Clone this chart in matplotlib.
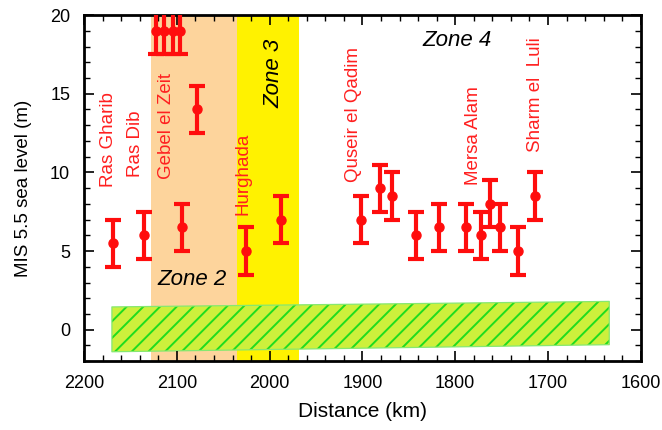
import matplotlib.pyplot as plt
from matplotlib.ticker import MultipleLocator

plt.rcParams['font.family'] = ['Liberation Sans', 'DejaVu Sans']
plt.rcParams['hatch.linewidth'] = 1.4

# site data: distance (km), MIS 5.5 sea level (m), error (m)
dist = [2169, 2135, 2123, 2114, 2104, 2097, 2094, 2078, 2025, 1988,
        1902, 1881, 1868, 1842, 1817, 1788, 1772, 1763, 1752, 1732, 1714]
level = [5.5, 6.0, 19.0, 19.0, 19.0, 19.0, 6.5, 14.0, 5.0, 7.0,
         7.0, 9.0, 8.5, 6.0, 6.5, 6.5, 6.0, 8.0, 6.5, 5.0, 8.5]
err = [1.5] * len(dist)

# site names and label positions (km, bottom of text in m)
site_names = ["Ras Gharib", "Ras Dib", "Gebel el Zeit", "Hurghada",
              "Quseir el Qadim", "Mersa Alam", "Sharm el  Luli"]
site_x = [2174, 2145, 2111, 2029, 1910, 1780, 1714]
site_y = [9.1, 9.7, 9.6, 7.3, 9.4, 9.2, 11.3]

# zones
zone2 = (2128, 2035)
zone3 = (2035, 1968)

# modelled band (lower / upper edges)
band_x = [2170, 1634]
band_lo = [-1.4, -0.95]
band_hi = [1.45, 1.8]

fig, ax = plt.subplots(figsize=(6.62, 4.30), dpi=100)
fig.subplots_adjust(left=0.127, right=0.968, top=0.965, bottom=0.160)

ax.axvspan(zone2[0], zone2[1], color='#fdd49c', lw=0, zorder=0)
ax.axvspan(zone3[0], zone3[1], color='#fff200', lw=0, zorder=0)

# hatched band, hatch takes the edge colour so the outline is drawn apart
ax.fill_between(band_x, band_lo, band_hi, facecolor='#cdf03c',
                edgecolor='#1fdc1f', hatch='//', lw=0, zorder=1)
ax.fill_between(band_x, band_lo, band_hi, facecolor='none',
                edgecolor='#86e870', lw=0.9, zorder=1)

ax.errorbar(dist, level, yerr=err, fmt='o', color='#ff0d0d', ms=6.5,
            elinewidth=3, capsize=6, capthick=3, zorder=3)

for name, x, y in zip(site_names, site_x, site_y):
    ax.text(x, y, name, rotation=90, color='#ff2020', fontsize=13.5,
            ha='center', va='bottom')

ax.text(2084, 3.2, "Zone 2", fontsize=16, style='italic', ha='center', va='center')
ax.text(1995, 16.3, "Zone 3", fontsize=16, style='italic', rotation=90,
        ha='center', va='center')
ax.text(1798, 18.4, "Zone 4", fontsize=16, style='italic', ha='center', va='center')

ax.set_xlim(2200, 1600)
ax.set_ylim(-2, 20)
ax.xaxis.set_major_locator(MultipleLocator(100))
ax.xaxis.set_minor_locator(MultipleLocator(20))
ax.yaxis.set_major_locator(MultipleLocator(5))
ax.yaxis.set_minor_locator(MultipleLocator(1))
ax.tick_params(which='both', direction='in', top=True, right=True, labelsize=13)
ax.tick_params(which='major', length=7, width=1.2, pad=10)
ax.tick_params(which='minor', length=4, width=1)
for s in ax.spines.values():
    s.set_linewidth(2)

ax.set_xlabel("Distance (km)", fontsize=15, labelpad=7)
ax.set_ylabel("MIS 5.5 sea level (m)", fontsize=13.5, labelpad=13)

fig.savefig("out.png")
